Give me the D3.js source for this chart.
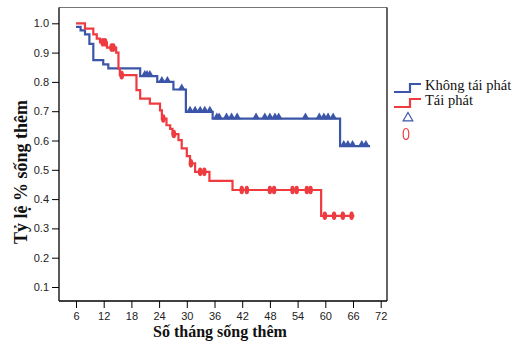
<!DOCTYPE html>
<html>
<head>
<meta charset="utf-8">
<script src="https://cdn.jsdelivr.net/npm/d3@7"></script>
<style>
  body { margin: 0; background: #fff; }
  svg { display: block; }
  .tick text { font-family: "Liberation Sans", Arial, sans-serif; font-size: 11px; fill: #222; }
  .tick line { stroke: #000; }
</style>
</head>
<body>
<script>
var width = 512;
var height = 344;

// survival steps (months, proportion surviving)
var khongTaiPhatT = [6, 7.0, 7.95, 8.9, 9.75, 11.9, 13.0, 19.9, 23.6, 27.1, 29.8, 35.6, 63.2, 69.7];
var khongTaiPhatS = [0.988, 0.976, 0.962, 0.93, 0.874, 0.86, 0.846, 0.82, 0.80, 0.774, 0.698, 0.675, 0.581, 0.581];
var khongTaiPhatCensor = [20.9, 21.4, 22.0, 24.6, 25.8, 28.9, 30.7, 31.8, 32.9, 33.9, 35.0, 36.5, 37.0, 38.6, 39.7, 40.9,
  45.0, 46.9, 48.0, 49.1, 49.9, 55.7, 58.7, 59.7, 60.6, 61.7, 64.0, 64.9, 65.9, 67.9, 68.8];

var taiPhatT = [6, 7.95, 9.75, 10.5, 11.2, 12.7, 14.7, 15.2, 15.5, 19.1, 19.9, 22.0, 24.2, 24.6, 25.6, 26.4, 26.9,
  28.2, 28.9, 30.0, 30.7, 31.8, 34.9, 39.9, 59.1, 66.3];
var taiPhatS = [1.0, 0.982, 0.962, 0.948, 0.935, 0.917, 0.90, 0.845, 0.823, 0.772, 0.743, 0.726, 0.703, 0.675, 0.652, 0.64, 0.622,
  0.601, 0.573, 0.547, 0.522, 0.493, 0.462, 0.431, 0.343, 0.343];
var taiPhatCensor = [11.8, 12.3, 13.7, 14.1, 15.9, 24.9, 27.2, 30.9, 32.9, 33.8, 41.9, 43.0, 48.0, 48.9, 52.9, 53.8, 56.0, 56.8,
  59.9, 61.9, 63.8, 65.7];

var xTicks = [6, 12, 18, 24, 30, 36, 42, 48, 54, 60, 66, 72];
var yTicks = [0.1, 0.2, 0.3, 0.4, 0.5, 0.6, 0.7, 0.8, 0.9, 1.0];

var blue = "#3b55a8";
var red = "#ee3b40";

var svg = d3.select("body").append("svg")
    .attr("width", width)
    .attr("height", height);

var x = d3.scaleLinear().domain([6, 72]).range([76, 380.7]);
var y = d3.scaleLinear().domain([0.1, 1.0]).range([287, 23.3]);

var frame = { left: 59, right: 387, top: 7.5, bottom: 301 };

// axes
svg.append("g")
    .attr("transform", "translate(" + frame.left + ",0)")
    .call(d3.axisLeft(y).tickValues(yTicks).tickSize(7).tickPadding(3).tickFormat(d3.format(".1f")))
    .call(function(g) { g.select(".domain").remove(); });

svg.append("g")
    .attr("transform", "translate(0," + frame.bottom + ")")
    .call(d3.axisBottom(x).tickValues(xTicks).tickSize(7).tickPadding(4))
    .call(function(g) { g.select(".domain").remove(); });

// frame
svg.append("line").attr("x1", frame.left).attr("x2", frame.right).attr("y1", frame.top).attr("y2", frame.top)
    .attr("stroke", "#777").attr("stroke-width", 1.2);
svg.append("line").attr("x1", frame.right).attr("x2", frame.right).attr("y1", frame.top).attr("y2", frame.bottom)
    .attr("stroke", "#111").attr("stroke-width", 1.3);
svg.append("line").attr("x1", frame.left).attr("x2", frame.left).attr("y1", frame.top).attr("y2", frame.bottom)
    .attr("stroke", "#000").attr("stroke-width", 1.3);
svg.append("line").attr("x1", frame.left).attr("x2", frame.right).attr("y1", frame.bottom).attr("y2", frame.bottom)
    .attr("stroke", "#000").attr("stroke-width", 1.3);

function stepAt(T, S, t) {
  var i = d3.bisectRight(T, t) - 1;
  return S[Math.max(0, i)];
}

var line = d3.line()
    .curve(d3.curveStepAfter)
    .x(function(d) { return x(d[0]); })
    .y(function(d) { return y(d[1]); });

// blue curve
svg.append("path")
    .datum(d3.zip(khongTaiPhatT, khongTaiPhatS))
    .attr("d", line)
    .attr("fill", "none")
    .attr("stroke", blue)
    .attr("stroke-width", 2.2);

svg.append("g").selectAll("path")
    .data(khongTaiPhatCensor)
    .enter().append("path")
      .attr("d", d3.symbol(d3.symbolTriangle).size(26))
      .attr("transform", function(d) {
        return "translate(" + x(d) + "," + (y(stepAt(khongTaiPhatT, khongTaiPhatS, d)) - 1.5) + ")";
      })
      .attr("fill", blue);

// red curve
svg.append("path")
    .datum(d3.zip(taiPhatT, taiPhatS))
    .attr("d", line)
    .attr("fill", "none")
    .attr("stroke", red)
    .attr("stroke-width", 2.2);

svg.append("g").selectAll("ellipse")
    .data(taiPhatCensor)
    .enter().append("ellipse")
      .attr("cx", function(d) { return x(d); })
      .attr("cy", function(d) { return y(stepAt(taiPhatT, taiPhatS, d)); })
      .attr("rx", 2.3)
      .attr("ry", 4.3)
      .attr("fill", red);

// axis titles
svg.append("text")
    .attr("x", 220)
    .attr("y", 337)
    .attr("text-anchor", "middle")
    .style("font-family", "'Liberation Serif', 'Times New Roman', serif")
    .style("font-weight", "bold")
    .style("font-size", "16px")
    .attr("fill", "#111")
    .text("Số tháng sống thêm");

svg.append("text")
    .attr("transform", "translate(27,172) rotate(-90)")
    .attr("text-anchor", "middle")
    .style("font-family", "'Liberation Serif', 'Times New Roman', serif")
    .style("font-weight", "bold")
    .style("font-size", "18px")
    .attr("fill", "#111")
    .text("Tỷ lệ % sống thêm");

// legend
var legend = [
  { label: "Không tái phát", color: blue, y: 89.5 },
  { label: "Tái phát", color: red, y: 104.5 }
];

legend.forEach(function(d) {
  svg.append("path")
      .attr("d", "M394," + (d.y + 2.5) + "H410V" + (d.y - 5.5) + "H421")
      .attr("fill", "none")
      .attr("stroke", d.color)
      .attr("stroke-width", 2.2);
  svg.append("text")
      .attr("x", 425)
      .attr("y", d.y)
      .style("font-family", "'Liberation Serif', 'Times New Roman', serif")
      .style("font-size", "14.5px")
      .attr("fill", "#111")
      .text(d.label);
});

svg.append("path")
    .attr("d", d3.symbol(d3.symbolTriangle).size(40))
    .attr("transform", "translate(408,118)")
    .attr("fill", "none")
    .attr("stroke", blue)
    .attr("stroke-width", 1.2);

svg.append("ellipse")
    .attr("cx", 406)
    .attr("cy", 134)
    .attr("rx", 2.8)
    .attr("ry", 5.5)
    .attr("fill", "none")
    .attr("stroke", red)
    .attr("stroke-width", 1.2);
</script>
</body>
</html>
